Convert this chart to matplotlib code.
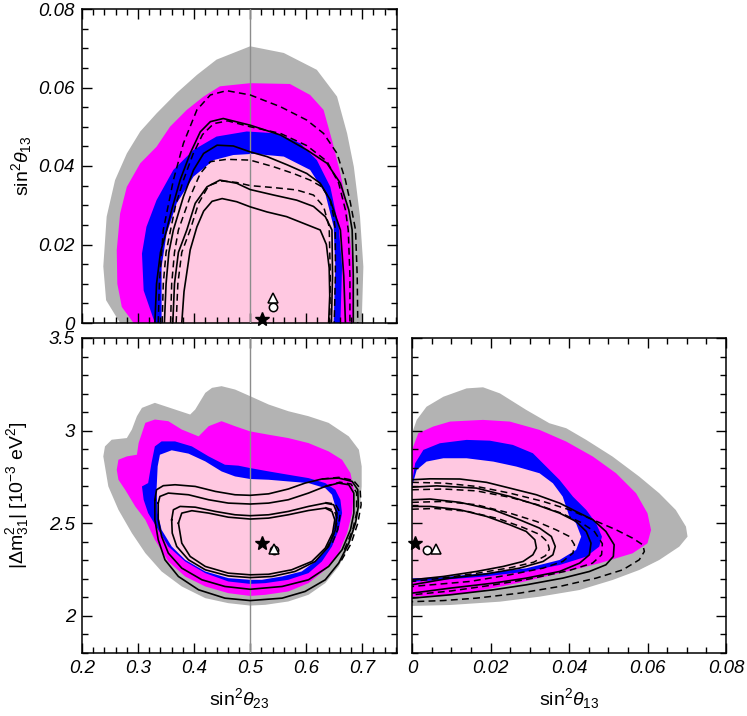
import matplotlib
matplotlib.use("Agg")
import matplotlib.pyplot as plt
from matplotlib.ticker import MultipleLocator, FuncFormatter

plt.rcParams['font.family'] = ['Liberation Sans', 'DejaVu Sans']
plt.rcParams['mathtext.fontset'] = 'custom'
plt.rcParams['mathtext.rm'] = 'Liberation Sans'
plt.rcParams['mathtext.it'] = 'Liberation Sans:italic'

# ---------------- colours of the confidence regions (outer -> inner)
region_colors = ['#b3b3b3', '#ff00ff', '#0000ff', '#ffc8e1']

# ================= TOP-LEFT: sin2theta23 vs sin2theta13 ==================
tl_gray_x = [0.268, 0.243, 0.238, 0.244, 0.259, 0.280, 0.304, 0.333, 0.369, 0.405, 0.440, 0.500, 0.560, 0.619, 0.655, 0.673, 0.685, 0.696, 0.702, 0.699]
tl_gray_y = [0, 0.0058, 0.0144, 0.0271, 0.0364, 0.0432, 0.0488, 0.0534, 0.0586, 0.0632, 0.0671, 0.0705, 0.0688, 0.0645, 0.0577, 0.0483, 0.0398, 0.0271, 0.0143, 0]
tl_mag_x = [0.292, 0.271, 0.263, 0.262, 0.268, 0.280, 0.304, 0.333, 0.357, 0.387, 0.417, 0.446, 0.500, 0.571, 0.607, 0.631, 0.646, 0.661, 0.673, 0.682, 0.685]
tl_mag_y = [0, 0.0041, 0.0100, 0.0186, 0.0279, 0.0347, 0.0407, 0.0449, 0.0500, 0.0543, 0.0577, 0.0603, 0.0611, 0.0609, 0.0581, 0.0543, 0.0466, 0.0381, 0.0296, 0.0160, 0]
tl_blue_x = [0.330, 0.310, 0.307, 0.315, 0.333, 0.363, 0.399, 0.440, 0.494, 0.548, 0.589, 0.619, 0.643, 0.658, 0.664, 0.661]
tl_blue_y = [0, 0.0083, 0.0177, 0.0245, 0.0313, 0.0390, 0.0441, 0.0475, 0.0488, 0.0483, 0.0458, 0.0415, 0.0347, 0.0245, 0.0143, 0]
tl_pink_x = [0.342, 0.342, 0.351, 0.369, 0.399, 0.435, 0.470, 0.506, 0.560, 0.607, 0.634, 0.649, 0.652, 0.649]
tl_pink_y = [0, 0.0143, 0.0228, 0.0305, 0.0373, 0.0415, 0.0428, 0.0431, 0.0424, 0.0390, 0.0330, 0.0245, 0.0143, 0]

# solid contour lines (outer -> inner)
tl_s1_x = [0.330, 0.333, 0.340, 0.351, 0.360, 0.375, 0.393, 0.411, 0.429, 0.452, 0.500, 0.554, 0.601, 0.637, 0.661, 0.676, 0.682, 0.684, 0.684]
tl_s1_y = [0, 0.010, 0.018, 0.0237, 0.0288, 0.0364, 0.0432, 0.0487, 0.0513, 0.0521, 0.0504, 0.0479, 0.0441, 0.0407, 0.0356, 0.0288, 0.0237, 0.012, 0]
tl_s2_x = [0.347, 0.350, 0.355, 0.363, 0.381, 0.399, 0.417, 0.441, 0.470, 0.500, 0.530, 0.566, 0.601, 0.625, 0.643, 0.655, 0.661, 0.667, 0.670]
tl_s2_y = [0, 0.010, 0.018, 0.0237, 0.0322, 0.0390, 0.0432, 0.0453, 0.0451, 0.0436, 0.0424, 0.0403, 0.0381, 0.0356, 0.0313, 0.0262, 0.0237, 0.012, 0]
tl_s3_x = [0.362, 0.365, 0.372, 0.387, 0.402, 0.423, 0.446, 0.476, 0.500, 0.542, 0.583, 0.613, 0.634, 0.646, 0.647, 0.645]
tl_s3_y = [0, 0.010, 0.018, 0.0237, 0.0305, 0.0347, 0.0364, 0.0356, 0.0340, 0.0326, 0.0313, 0.0297, 0.0271, 0.0237, 0.012, 0]
tl_s4_x = [0.378, 0.382, 0.393, 0.405, 0.417, 0.432, 0.450, 0.476, 0.500, 0.530, 0.565, 0.595, 0.625, 0.636, 0.641, 0.642, 0.640]
tl_s4_y = [0, 0.008, 0.0186, 0.0245, 0.0285, 0.0310, 0.0317, 0.0309, 0.0296, 0.0283, 0.0271, 0.0254, 0.0237, 0.0200, 0.0140, 0.007, 0]
# dashed contour lines (outer -> inner)
tl_d1_x = [0.336, 0.338, 0.345, 0.363, 0.381, 0.405, 0.429, 0.458, 0.500, 0.554, 0.601, 0.631, 0.655, 0.670, 0.679, 0.688, 0.691, 0.692]
tl_d1_y = [0, 0.010, 0.0237, 0.0364, 0.0458, 0.0543, 0.0581, 0.0592, 0.0581, 0.0551, 0.0517, 0.0483, 0.0432, 0.0364, 0.0305, 0.0237, 0.012, 0]
tl_d2_x = [0.343, 0.345, 0.350, 0.358, 0.367, 0.381, 0.398, 0.415, 0.435, 0.460, 0.500, 0.554, 0.601, 0.637, 0.658, 0.670, 0.675, 0.678, 0.678]
tl_d2_y = [0, 0.010, 0.018, 0.0237, 0.030, 0.0364, 0.0430, 0.0480, 0.0508, 0.0515, 0.0500, 0.0483, 0.0452, 0.0412, 0.0356, 0.0288, 0.0237, 0.012, 0]
tl_d3_x = [0.358, 0.360, 0.365, 0.372, 0.393, 0.411, 0.429, 0.458, 0.500, 0.542, 0.577, 0.607, 0.628, 0.643, 0.649, 0.652, 0.652, 0.650]
tl_d3_y = [0, 0.010, 0.018, 0.0237, 0.0322, 0.0381, 0.0411, 0.0417, 0.0415, 0.0398, 0.0381, 0.0364, 0.0347, 0.0313, 0.0271, 0.0237, 0.012, 0]
tl_d4_x = [0.368, 0.371, 0.378, 0.393, 0.408, 0.426, 0.449, 0.476, 0.500, 0.542, 0.583, 0.613, 0.631, 0.641, 0.643, 0.642]
tl_d4_y = [0, 0.010, 0.018, 0.0237, 0.0305, 0.0350, 0.0362, 0.0358, 0.0350, 0.0345, 0.0339, 0.0326, 0.0297, 0.0245, 0.012, 0]

# ================= BOTTOM-LEFT: sin2theta23 vs |dm31^2| ==================
bl_gray_x = [0.238, 0.241, 0.253, 0.280, 0.289, 0.298, 0.307, 0.330, 0.366, 0.393, 0.402, 0.420, 0.432, 0.449, 0.473, 0.500, 0.533, 0.568, 0.604, 0.640, 0.676, 0.694, 0.699, 0.699, 0.696, 0.688, 0.676, 0.658, 0.634, 0.604, 0.568, 0.527, 0.500, 0.461, 0.420, 0.378, 0.342, 0.313, 0.289, 0.265, 0.247]
bl_gray_y = [2.861, 2.915, 2.951, 2.960, 3.006, 3.078, 3.123, 3.150, 3.114, 3.087, 3.114, 3.204, 3.231, 3.240, 3.222, 3.186, 3.141, 3.105, 3.078, 3.042, 2.969, 2.897, 2.807, 2.699, 2.591, 2.483, 2.375, 2.267, 2.177, 2.114, 2.078, 2.060, 2.056, 2.069, 2.096, 2.159, 2.240, 2.339, 2.447, 2.573, 2.699]
bl_mag_x = [0.262, 0.265, 0.280, 0.298, 0.301, 0.313, 0.330, 0.354, 0.378, 0.408, 0.426, 0.449, 0.473, 0.500, 0.533, 0.568, 0.604, 0.640, 0.664, 0.679, 0.685, 0.682, 0.673, 0.658, 0.634, 0.604, 0.568, 0.527, 0.500, 0.461, 0.420, 0.384, 0.354, 0.330, 0.313, 0.295, 0.277, 0.265]
bl_mag_y = [2.789, 2.843, 2.861, 2.870, 2.933, 3.042, 3.060, 3.051, 3.006, 2.969, 3.024, 3.051, 3.024, 2.996, 2.978, 2.960, 2.933, 2.888, 2.843, 2.771, 2.681, 2.555, 2.447, 2.339, 2.249, 2.177, 2.132, 2.114, 2.108, 2.123, 2.159, 2.213, 2.294, 2.411, 2.519, 2.591, 2.681, 2.735]
bl_blue_x = [0.307, 0.318, 0.324, 0.330, 0.342, 0.366, 0.396, 0.426, 0.455, 0.479, 0.500, 0.533, 0.568, 0.604, 0.634, 0.652, 0.661, 0.664, 0.658, 0.646, 0.628, 0.604, 0.568, 0.527, 0.500, 0.461, 0.420, 0.384, 0.354, 0.336, 0.318, 0.310]
bl_blue_y = [2.699, 2.717, 2.825, 2.915, 2.942, 2.942, 2.915, 2.861, 2.816, 2.811, 2.798, 2.780, 2.762, 2.744, 2.717, 2.681, 2.627, 2.555, 2.465, 2.375, 2.294, 2.231, 2.195, 2.177, 2.173, 2.186, 2.231, 2.294, 2.375, 2.465, 2.555, 2.627]
bl_pink_x = [0.333, 0.335, 0.339, 0.360, 0.390, 0.420, 0.449, 0.473, 0.500, 0.533, 0.568, 0.604, 0.634, 0.646, 0.652, 0.652, 0.646, 0.634, 0.616, 0.592, 0.557, 0.521, 0.500, 0.461, 0.420, 0.384, 0.360, 0.342, 0.335]
bl_pink_y = [2.681, 2.807, 2.870, 2.894, 2.876, 2.834, 2.780, 2.753, 2.739, 2.735, 2.726, 2.717, 2.690, 2.654, 2.591, 2.519, 2.429, 2.357, 2.294, 2.240, 2.213, 2.195, 2.195, 2.204, 2.240, 2.303, 2.375, 2.465, 2.555]

bl_s1_x = [0.330, 0.333, 0.345, 0.366, 0.402, 0.438, 0.473, 0.500, 0.533, 0.568, 0.598, 0.628, 0.658, 0.682, 0.692, 0.693, 0.688, 0.676, 0.658, 0.634, 0.598, 0.557, 0.500, 0.455, 0.408, 0.372, 0.348, 0.336, 0.330, 0.330]
bl_s1_y = [2.627, 2.681, 2.703, 2.708, 2.699, 2.672, 2.654, 2.651, 2.659, 2.685, 2.717, 2.739, 2.744, 2.726, 2.681, 2.591, 2.501, 2.393, 2.285, 2.195, 2.132, 2.096, 2.083, 2.096, 2.141, 2.213, 2.303, 2.411, 2.519, 2.627]
bl_s2_x = [0.336, 0.339, 0.354, 0.390, 0.426, 0.461, 0.500, 0.533, 0.568, 0.604, 0.634, 0.658, 0.676, 0.685, 0.685, 0.679, 0.664, 0.640, 0.604, 0.557, 0.500, 0.455, 0.414, 0.378, 0.354, 0.342, 0.336, 0.336]
bl_s2_y = [2.609, 2.645, 2.663, 2.654, 2.627, 2.609, 2.604, 2.609, 2.627, 2.663, 2.699, 2.717, 2.708, 2.663, 2.555, 2.465, 2.357, 2.267, 2.195, 2.159, 2.144, 2.159, 2.195, 2.258, 2.339, 2.429, 2.519, 2.609]
bl_s3_x = [0.360, 0.363, 0.375, 0.402, 0.438, 0.473, 0.500, 0.533, 0.568, 0.604, 0.634, 0.649, 0.655, 0.652, 0.640, 0.616, 0.580, 0.539, 0.500, 0.461, 0.420, 0.390, 0.369, 0.361, 0.360]
bl_s3_y = [2.519, 2.573, 2.591, 2.587, 2.564, 2.546, 2.541, 2.546, 2.564, 2.591, 2.609, 2.600, 2.555, 2.465, 2.375, 2.294, 2.240, 2.213, 2.207, 2.216, 2.249, 2.303, 2.375, 2.447, 2.519]
bl_s4_x = [0.372, 0.378, 0.396, 0.426, 0.461, 0.500, 0.533, 0.568, 0.604, 0.634, 0.646, 0.651, 0.647, 0.634, 0.610, 0.574, 0.533, 0.500, 0.461, 0.420, 0.393, 0.378, 0.372]
bl_s4_y = [2.501, 2.555, 2.568, 2.555, 2.533, 2.523, 2.528, 2.546, 2.569, 2.582, 2.564, 2.519, 2.447, 2.366, 2.294, 2.249, 2.225, 2.222, 2.231, 2.267, 2.321, 2.393, 2.501]
# dashed contours: only their right-hand arcs are distinguishable from the solid ones
bl_d1_x = [0.628, 0.658, 0.684, 0.696, 0.698, 0.692, 0.680, 0.660]
bl_d1_y = [2.739, 2.748, 2.732, 2.690, 2.600, 2.500, 2.390, 2.285]
bl_d2_x = [0.634, 0.660, 0.680, 0.690, 0.690, 0.683, 0.668]
bl_d2_y = [2.699, 2.722, 2.712, 2.665, 2.555, 2.465, 2.357]
bl_d3_x = [0.634, 0.652, 0.661, 0.656, 0.644]
bl_d3_y = [2.612, 2.604, 2.555, 2.465, 2.375]
bl_d4_x = [0.634, 0.650, 0.656, 0.650, 0.637]
bl_d4_y = [2.585, 2.570, 2.519, 2.447, 2.366]

# ================= BOTTOM-RIGHT: sin2theta13 vs |dm31^2| =================
br_gray_x = [0, 0.0003, 0.0012, 0.0037, 0.0080, 0.0139, 0.0181, 0.0224, 0.0291, 0.0350, 0.0393, 0.0444, 0.0511, 0.0579, 0.0630, 0.0672, 0.0698, 0.0702, 0.0681, 0.0630, 0.0579, 0.0511, 0.0427, 0.0325, 0.0224, 0.0097, 0]
br_gray_y = [2.960, 3.004, 3.058, 3.129, 3.183, 3.228, 3.234, 3.201, 3.112, 3.040, 3.013, 2.950, 2.860, 2.752, 2.662, 2.572, 2.482, 2.428, 2.374, 2.302, 2.248, 2.194, 2.140, 2.104, 2.077, 2.059, 2.054]
br_mag_x = [0, 0.0016, 0.0054, 0.0097, 0.0181, 0.0249, 0.0325, 0.0393, 0.0461, 0.0520, 0.0571, 0.0600, 0.0609, 0.0600, 0.0562, 0.0477, 0.0376, 0.0266, 0.0139, 0]
br_mag_y = [2.896, 2.986, 3.022, 3.049, 3.058, 3.049, 3.004, 2.941, 2.860, 2.770, 2.662, 2.554, 2.464, 2.392, 2.338, 2.284, 2.230, 2.176, 2.122, 2.104]
br_blue_x = [0, 0.0008, 0.0029, 0.0071, 0.0139, 0.0198, 0.0257, 0.0308, 0.0342, 0.0376, 0.0410, 0.0444, 0.0469, 0.0484, 0.0477, 0.0444, 0.0376, 0.0291, 0.0181, 0.0071, 0]
br_blue_y = [2.716, 2.824, 2.896, 2.932, 2.950, 2.946, 2.923, 2.878, 2.806, 2.734, 2.644, 2.572, 2.500, 2.428, 2.374, 2.320, 2.275, 2.239, 2.212, 2.194, 2.185]
br_pink_x = [0, 0.0012, 0.0037, 0.0080, 0.0139, 0.0207, 0.0266, 0.0325, 0.0359, 0.0384, 0.0401, 0.0418, 0.0431, 0.0418, 0.0376, 0.0291, 0.0181, 0.0071, 0]
br_pink_y = [2.698, 2.788, 2.833, 2.851, 2.851, 2.833, 2.806, 2.770, 2.716, 2.644, 2.536, 2.500, 2.428, 2.356, 2.302, 2.257, 2.230, 2.208, 2.203]

br_s1_x = [0, 0.0046, 0.0122, 0.0190, 0.0249, 0.0317, 0.0376, 0.0418, 0.0461, 0.0494, 0.0515, 0.0513, 0.0494, 0.0452, 0.0384, 0.0291, 0.0207, 0.0097, 0]
br_s1_y = [2.735, 2.740, 2.739, 2.721, 2.690, 2.654, 2.609, 2.564, 2.519, 2.456, 2.384, 2.321, 2.276, 2.240, 2.204, 2.168, 2.141, 2.114, 2.096]
br_s2_x = [0, 0.0063, 0.0164, 0.0249, 0.0317, 0.0376, 0.0418, 0.0444, 0.0456, 0.0452, 0.0427, 0.0376, 0.0291, 0.0207, 0.0097, 0]
br_s2_y = [2.695, 2.702, 2.690, 2.645, 2.600, 2.555, 2.510, 2.456, 2.393, 2.330, 2.285, 2.240, 2.204, 2.177, 2.150, 2.123]
br_s3_x = [0, 0.0046, 0.0122, 0.0207, 0.0274, 0.0325, 0.0355, 0.0365, 0.0359, 0.0334, 0.0274, 0.0190, 0.0097, 0]
br_s3_y = [2.627, 2.631, 2.613, 2.573, 2.519, 2.474, 2.429, 2.375, 2.330, 2.294, 2.258, 2.227, 2.204, 2.168]
br_s4_x = [0, 0.0046, 0.0122, 0.0190, 0.0249, 0.0291, 0.0313, 0.0317, 0.0308, 0.0283, 0.0232, 0.0164, 0.0080, 0]
br_s4_y = [2.591, 2.591, 2.573, 2.537, 2.492, 2.456, 2.411, 2.366, 2.330, 2.294, 2.267, 2.240, 2.213, 2.195]
br_d1_x = [0, 0.0080, 0.0164, 0.0249, 0.0334, 0.0401, 0.0461, 0.0520, 0.0562, 0.0588, 0.0592, 0.0579, 0.0537, 0.0469, 0.0376, 0.0274, 0.0164, 0.0080, 0]
br_d1_y = [2.721, 2.717, 2.699, 2.663, 2.618, 2.573, 2.519, 2.465, 2.420, 2.384, 2.348, 2.303, 2.249, 2.204, 2.159, 2.123, 2.096, 2.083, 2.077]
br_d2_x = [0, 0.0080, 0.0164, 0.0250, 0.0320, 0.0380, 0.0430, 0.0465, 0.0485, 0.0483, 0.0460, 0.0400, 0.0300, 0.0200, 0.0100, 0]
br_d2_y = [2.681, 2.685, 2.675, 2.640, 2.600, 2.555, 2.505, 2.455, 2.390, 2.330, 2.285, 2.245, 2.200, 2.165, 2.135, 2.114]
br_d3_x = [0, 0.0080, 0.0164, 0.0249, 0.0317, 0.0367, 0.0401, 0.0414, 0.0410, 0.0384, 0.0334, 0.0249, 0.0147, 0]
br_d3_y = [2.613, 2.618, 2.600, 2.555, 2.510, 2.465, 2.429, 2.384, 2.339, 2.294, 2.258, 2.222, 2.186, 2.159]
br_d4_x = [0, 0.0060, 0.0140, 0.0220, 0.0280, 0.0325, 0.0345, 0.0350, 0.0340, 0.0310, 0.0250, 0.0170, 0.0080, 0]
br_d4_y = [2.576, 2.580, 2.565, 2.525, 2.480, 2.440, 2.400, 2.360, 2.325, 2.290, 2.260, 2.232, 2.205, 2.186]

# ---------------- best-fit points
star_tl = (0.522, 0.0009); circ_tl = (0.5405, 0.0040); tri_tl = (0.5405, 0.0063)
star_bl = (0.521, 2.396); circ_bl = (0.542, 2.358); tri_bl = (0.542, 2.362)
star_br = (0.0008, 2.396); circ_br = (0.0039, 2.356); tri_br = (0.0061, 2.362)

s23_lim = (0.2, 0.762)
s13_lim = (0, 0.08)
dm_lim = (1.8, 3.5)

# =========================================================================
W, H = 747, 716
fig = plt.figure(figsize=(W / 100, H / 100), dpi=100)
ax_tl = fig.add_axes([82 / W, 1 - 323 / H, 315 / W, 314 / H])
ax_bl = fig.add_axes([82 / W, 1 - 653 / H, 315 / W, 315 / H])
ax_br = fig.add_axes([412 / W, 1 - 653 / H, 314 / W, 315 / H])

fmt = FuncFormatter(lambda v, p: '%g' % round(v, 6))


def style_axes(ax, xmaj, xmin, ymaj, ymin, xlab=True, ylab=True):
    ax.xaxis.set_major_locator(MultipleLocator(xmaj))
    ax.xaxis.set_minor_locator(MultipleLocator(xmin))
    ax.yaxis.set_major_locator(MultipleLocator(ymaj))
    ax.yaxis.set_minor_locator(MultipleLocator(ymin))
    ax.tick_params(which='both', direction='in', top=True, right=True, width=1.0, color='black')
    ax.tick_params(which='major', length=7.5)
    ax.tick_params(which='minor', length=4.5)
    ax.tick_params(labelbottom=xlab, labelleft=ylab, pad=5)
    ax.xaxis.set_major_formatter(fmt)
    ax.yaxis.set_major_formatter(fmt)
    for lab in ax.get_xticklabels() + ax.get_yticklabels():
        lab.set_fontsize(13.5)
        lab.set_fontstyle('italic')
    for sp in ax.spines.values():
        sp.set_linewidth(1.1)


def draw_regions(ax, regions):
    for (x, y), c in zip(regions, region_colors):
        ax.fill(x, y, color=c, lw=0, zorder=1)


def draw_lines(ax, solids, dashes):
    for x, y in dashes:
        ax.plot(x, y, color='black', lw=1.1, ls=(0, (4.5, 2.8)), zorder=4, solid_joinstyle='round')
    for x, y in solids:
        ax.plot(x, y, color='black', lw=1.2, zorder=5, solid_joinstyle='round')


def draw_points(ax, star, circ, tri):
    ax.plot(*star, marker='*', ms=10, color='black', mec='black', ls='none', zorder=7, clip_on=False)
    ax.plot(*circ, marker='o', ms=6, mfc='white', mec='black', mew=1.1, ls='none', zorder=7)
    ax.plot(*tri, marker='^', ms=6.5, mfc='white', mec='black', mew=1.1, ls='none', zorder=7)


# --- top-left
draw_regions(ax_tl, [(tl_gray_x, tl_gray_y), (tl_mag_x, tl_mag_y), (tl_blue_x, tl_blue_y), (tl_pink_x, tl_pink_y)])
ax_tl.axvline(0.5, color='#8c8c8c', lw=1.0, zorder=3)
draw_lines(ax_tl,
           [(tl_s1_x, tl_s1_y), (tl_s2_x, tl_s2_y), (tl_s3_x, tl_s3_y), (tl_s4_x, tl_s4_y)],
           [(tl_d1_x, tl_d1_y), (tl_d2_x, tl_d2_y), (tl_d3_x, tl_d3_y), (tl_d4_x, tl_d4_y)])
draw_points(ax_tl, star_tl, circ_tl, tri_tl)
ax_tl.set_xlim(*s23_lim)
ax_tl.set_ylim(*s13_lim)
style_axes(ax_tl, 0.1, 0.02, 0.02, 0.005, xlab=False, ylab=True)
ax_tl.set_ylabel(r'sin$^2\theta_{13}$', fontsize=14)
ax_tl.yaxis.set_label_coords(-0.152, 0.5)

# --- bottom-left
draw_regions(ax_bl, [(bl_gray_x, bl_gray_y), (bl_mag_x, bl_mag_y), (bl_blue_x, bl_blue_y), (bl_pink_x, bl_pink_y)])
ax_bl.axvline(0.5, color='#8c8c8c', lw=1.0, zorder=3)
draw_lines(ax_bl,
           [(bl_s1_x, bl_s1_y), (bl_s2_x, bl_s2_y), (bl_s3_x, bl_s3_y), (bl_s4_x, bl_s4_y)],
           [(bl_d1_x, bl_d1_y), (bl_d2_x, bl_d2_y), (bl_d3_x, bl_d3_y), (bl_d4_x, bl_d4_y)])
draw_points(ax_bl, star_bl, circ_bl, tri_bl)
ax_bl.set_xlim(*s23_lim)
ax_bl.set_ylim(*dm_lim)
style_axes(ax_bl, 0.1, 0.02, 0.5, 0.1, xlab=True, ylab=True)
ax_bl.set_xlabel(r'sin$^2\theta_{23}$', fontsize=14)
ax_bl.xaxis.set_label_coords(0.5, -0.105)
ax_bl.set_ylabel(r'|$\mathit{\Delta}$m$^2_{31}$| [10$^{-3}$ eV$^2$]', fontsize=14)
ax_bl.yaxis.set_label_coords(-0.163, 0.5)

# --- bottom-right
draw_regions(ax_br, [(br_gray_x, br_gray_y), (br_mag_x, br_mag_y), (br_blue_x, br_blue_y), (br_pink_x, br_pink_y)])
draw_lines(ax_br,
           [(br_s1_x, br_s1_y), (br_s2_x, br_s2_y), (br_s3_x, br_s3_y), (br_s4_x, br_s4_y)],
           [(br_d1_x, br_d1_y), (br_d2_x, br_d2_y), (br_d3_x, br_d3_y), (br_d4_x, br_d4_y)])
draw_points(ax_br, star_br, circ_br, tri_br)
ax_br.set_xlim(*s13_lim)
ax_br.set_ylim(*dm_lim)
style_axes(ax_br, 0.02, 0.005, 0.5, 0.1, xlab=True, ylab=False)
ax_br.set_xlabel(r'sin$^2\theta_{13}$', fontsize=14)
ax_br.xaxis.set_label_coords(0.5, -0.105)

fig.savefig('out.png', dpi=100)
